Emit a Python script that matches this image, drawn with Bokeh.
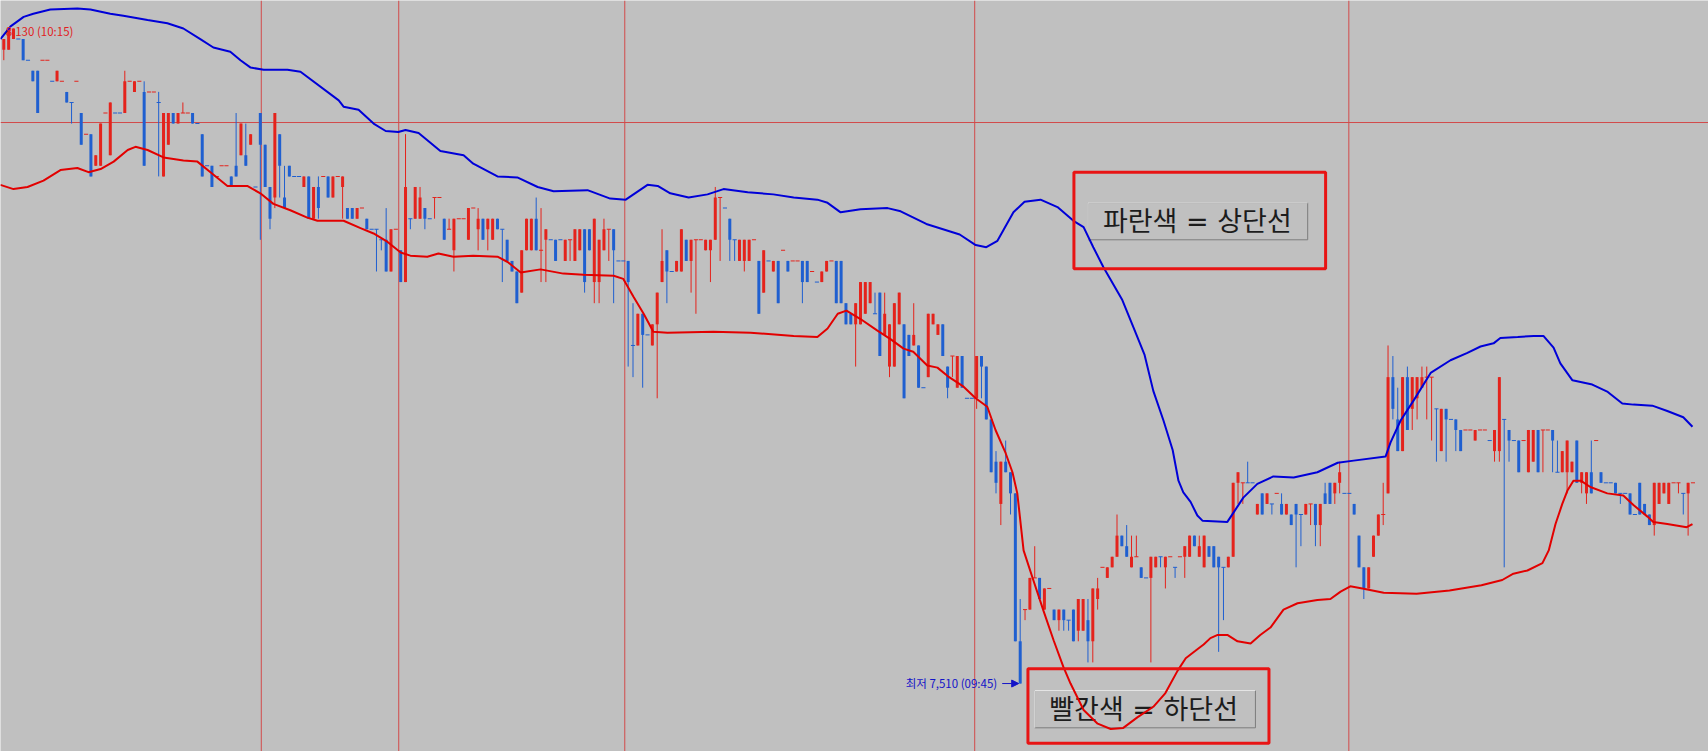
from bokeh.plotting import figure
from bokeh.models import Range1d, Span, Arrow, NormalHead
from bokeh.core.properties import value
from bokeh.embed import file_html
from bokeh.resources import INLINE

# ---------------- data (5-minute candles, KRW) ----------------
opens = [
    8110, 8110, 8120, 8120, 8120, 8100, 8090, 8090, 8100, 8100,
    8080, 8080, 8080, 8070, 8060, 8080, 8050, 8030, 8030, 8000,
    8000, 8050, 8010, 8050, 8050, 8050, 8080, 8070, 8080, 8070,
    8070, 8070, 8060, 7990, 8020, 8050, 8040, 8050, 8050, 8050,
    8040, 8030, 8000, 8000, 7990, 8000, 8000, 7990, 8000, 8010,
    8010, 8020, 7980, 8050, 8020, 7980, 7970, 8030, 7970, 8000,
    7990, 7990, 7980, 7990, 7950, 7980, 7990, 7990, 7970, 7990,
    7980, 7960, 7960, 7950, 7960, 7950, 7940, 7940, 7930, 7930,
    7900, 7940, 7920, 7890, 7950, 7950, 7950, 7960, 7950, 7970,
    7970, 7950, 7940, 7920, 7950, 7950, 7930, 7960, 7940, 7950,
    7940, 7930, 7950, 7940, 7930, 7910, 7900, 7880, 7920, 7920,
    7950, 7920, 7930, 7930, 7930, 7930, 7910, 7930, 7910, 7920,
    7940, 7940, 7890, 7890, 7920, 7940, 7940, 7910, 7910, 7910,
    7830, 7830, 7860, 7840, 7830, 7850, 7890, 7920, 7900, 7900,
    7900, 7930, 7910, 7930, 7930, 7920, 7920, 7930, 7970, 7960,
    7950, 7930, 7910, 7910, 7910, 7930, 7910, 7880, 7910, 7900,
    7910, 7920, 7910, 7910, 7910, 7910, 7910, 7900, 7890, 7890,
    7900, 7910, 7910, 7910, 7870, 7860, 7850, 7850, 7860, 7870,
    7860, 7880, 7840, 7810, 7810, 7850, 7850, 7840, 7830, 7830,
    7790, 7800, 7850, 7840, 7850, 7810, 7820, 7790, 7820, 7780,
    7780, 7780, 7820, 7810, 7760, 7720, 7680, 7720, 7710, 7690,
    7550, 7580, 7580, 7610, 7610, 7580, 7600, 7580, 7570, 7580,
    7570, 7580, 7560, 7560, 7570, 7550, 7590, 7620, 7610, 7620,
    7630, 7650, 7640, 7620, 7630, 7620, 7610, 7610, 7620, 7630,
    7620, 7630, 7620, 7630, 7630, 7630, 7650, 7630, 7620, 7640,
    7640, 7630, 7620, 7620, 7630, 7700, 7700, 7700, 7700, 7670,
    7690, 7680, 7680, 7690, 7680, 7670, 7670, 7680, 7670, 7670,
    7680, 7680, 7660, 7690, 7700, 7690, 7700, 7690, 7690, 7680,
    7650, 7620, 7600, 7630, 7650, 7670, 7690, 7800, 7760, 7730,
    7800, 7770, 7780, 7790, 7800, 7800, 7770, 7730, 7770, 7760,
    7760, 7750, 7750, 7750, 7740, 7750, 7750, 7740, 7730, 7730,
    7760, 7750, 7740, 7740, 7740, 7710, 7720, 7750, 7750, 7750,
    7750, 7710, 7710, 7710, 7710, 7740, 7700, 7690, 7710, 7740,
    7710, 7700, 7700, 7700, 7690, 7690, 7690, 7670, 7700, 7680,
    7670, 7660, 7680, 7690, 7680, 7700, 7700, 7690, 7690, 7700,
]
closes = [
    8120, 8130, 8130, 8120, 8100, 8100, 8080, 8050, 8100, 8100,
    8080, 8090, 8080, 8060, 8060, 8080, 8020, 8030, 7990, 8010,
    8040, 8050, 8060, 8050, 8050, 8080, 8080, 8080, 8080, 8000,
    8070, 8070, 8060, 8050, 8050, 8040, 8050, 8050, 8050, 8040,
    8040, 7990, 8000, 7980, 7990, 8000, 8000, 7980, 7990, 8040,
    8000, 8030, 7980, 8020, 7980, 7950, 8050, 8000, 7960, 7990,
    7990, 7990, 7990, 7950, 7980, 7960, 7990, 7970, 7990, 7990,
    7990, 7950, 7950, 7960, 7960, 7940, 7940, 7940, 7930, 7900,
    7940, 7940, 7890, 7980, 7950, 7980, 7970, 7950, 7950, 7970,
    7970, 7930, 7940, 7950, 7950, 7950, 7960, 7960, 7950, 7930,
    7950, 7950, 7940, 7940, 7910, 7900, 7870, 7920, 7950, 7950,
    7920, 7920, 7940, 7930, 7910, 7930, 7930, 7930, 7940, 7940,
    7890, 7920, 7950, 7930, 7940, 7940, 7920, 7910, 7910, 7890,
    7830, 7860, 7840, 7840, 7850, 7880, 7910, 7900, 7900, 7910,
    7940, 7910, 7930, 7930, 7930, 7930, 7930, 7970, 7970, 7960,
    7930, 7930, 7930, 7930, 7930, 7930, 7860, 7920, 7910, 7910,
    7870, 7920, 7900, 7910, 7910, 7890, 7890, 7900, 7890, 7900,
    7910, 7910, 7870, 7870, 7850, 7850, 7870, 7890, 7890, 7890,
    7860, 7820, 7860, 7850, 7870, 7880, 7780, 7820, 7840, 7790,
    7790, 7860, 7860, 7850, 7820, 7790, 7820, 7820, 7790, 7780,
    7780, 7820, 7810, 7760, 7710, 7700, 7720, 7710, 7690, 7550,
    7510, 7580, 7610, 7610, 7590, 7600, 7600, 7570, 7580, 7570,
    7570, 7550, 7590, 7590, 7550, 7600, 7600, 7620, 7620, 7630,
    7650, 7640, 7630, 7630, 7630, 7610, 7610, 7630, 7630, 7630,
    7630, 7630, 7620, 7630, 7640, 7650, 7640, 7640, 7650, 7630,
    7620, 7620, 7620, 7630, 7700, 7710, 7700, 7700, 7700, 7680,
    7670, 7690, 7680, 7690, 7670, 7680, 7660, 7670, 7670, 7680,
    7680, 7660, 7680, 7680, 7680, 7700, 7710, 7690, 7690, 7670,
    7620, 7600, 7620, 7650, 7670, 7670, 7800, 7770, 7730, 7800,
    7750, 7800, 7800, 7800, 7800, 7800, 7770, 7770, 7760, 7760,
    7750, 7730, 7750, 7750, 7750, 7750, 7750, 7740, 7750, 7800,
    7760, 7740, 7740, 7710, 7740, 7750, 7750, 7710, 7750, 7750,
    7740, 7710, 7730, 7740, 7720, 7700, 7710, 7710, 7690, 7740,
    7700, 7700, 7700, 7690, 7690, 7690, 7670, 7670, 7670, 7670,
    7660, 7700, 7700, 7700, 7700, 7700, 7700, 7690, 7700, 7700,
]
highs = [
    8120, 8130, 8130, 8120, 8120, 8100, 8090, 8090, 8100, 8100,
    8080, 8090, 8080, 8070, 8060, 8080, 8050, 8030, 8030, 8010,
    8040, 8050, 8060, 8050, 8050, 8090, 8080, 8080, 8080, 8080,
    8070, 8070, 8070, 8050, 8050, 8050, 8050, 8060, 8050, 8050,
    8040, 8030, 8000, 8000, 7990, 8000, 8000, 7990, 8050, 8040,
    8040, 8030, 7980, 8050, 8020, 7980, 8050, 8030, 8000, 8000,
    7990, 7990, 7990, 7990, 7980, 7990, 7990, 7990, 7990, 7990,
    7990, 7960, 7960, 7960, 7960, 7950, 7940, 7940, 7930, 7960,
    7940, 7940, 7920, 8030, 7950, 7980, 7980, 7960, 7950, 7970,
    7970, 7950, 7950, 7950, 7950, 7950, 7960, 7960, 7960, 7950,
    7950, 7950, 7950, 7940, 7930, 7910, 7900, 7920, 7950, 7950,
    7970, 7960, 7940, 7930, 7930, 7930, 7930, 7930, 7940, 7940,
    7940, 7940, 7950, 7930, 7950, 7940, 7940, 7910, 7910, 7910,
    7870, 7860, 7860, 7840, 7850, 7880, 7940, 7920, 7900, 7910,
    7940, 7930, 7930, 7930, 7930, 7930, 7930, 7980, 7970, 7960,
    7950, 7930, 7930, 7930, 7930, 7930, 7910, 7920, 7910, 7910,
    7910, 7920, 7910, 7910, 7910, 7910, 7910, 7900, 7890, 7900,
    7910, 7910, 7910, 7910, 7870, 7860, 7870, 7890, 7890, 7890,
    7880, 7880, 7880, 7850, 7870, 7880, 7850, 7840, 7870, 7830,
    7790, 7860, 7860, 7850, 7850, 7810, 7820, 7820, 7820, 7780,
    7780, 7820, 7820, 7810, 7760, 7730, 7720, 7740, 7710, 7690,
    7590, 7580, 7610, 7640, 7610, 7600, 7600, 7580, 7580, 7580,
    7570, 7580, 7590, 7590, 7590, 7600, 7610, 7620, 7620, 7630,
    7670, 7650, 7660, 7650, 7650, 7620, 7610, 7630, 7630, 7630,
    7630, 7630, 7620, 7630, 7640, 7650, 7650, 7650, 7650, 7640,
    7640, 7630, 7620, 7630, 7700, 7710, 7700, 7720, 7700, 7680,
    7690, 7690, 7680, 7690, 7690, 7680, 7670, 7680, 7670, 7680,
    7680, 7680, 7680, 7700, 7700, 7700, 7720, 7690, 7690, 7680,
    7650, 7620, 7620, 7650, 7670, 7700, 7830, 7820, 7790, 7800,
    7810, 7800, 7800, 7810, 7810, 7800, 7770, 7770, 7770, 7760,
    7760, 7750, 7750, 7750, 7750, 7750, 7750, 7740, 7750, 7800,
    7760, 7750, 7740, 7740, 7740, 7750, 7750, 7750, 7750, 7750,
    7750, 7740, 7730, 7740, 7720, 7740, 7710, 7710, 7740, 7740,
    7710, 7700, 7700, 7700, 7690, 7690, 7690, 7670, 7700, 7680,
    7670, 7700, 7700, 7700, 7700, 7700, 7700, 7690, 7700, 7700,
]
lows = [
    8100, 8110, 8120, 8120, 8100, 8100, 8080, 8050, 8100, 8100,
    8080, 8080, 8080, 8060, 8040, 8080, 8020, 8030, 7990, 8000,
    8000, 8050, 8010, 8050, 8050, 8050, 8080, 8070, 8080, 8000,
    8070, 8070, 7990, 7990, 8020, 8040, 8040, 8050, 8050, 8040,
    8040, 7990, 8000, 7980, 7990, 8000, 8000, 7980, 7990, 8010,
    8000, 8020, 7980, 7930, 7980, 7940, 7960, 7970, 7960, 7990,
    7990, 7990, 7980, 7950, 7950, 7950, 7990, 7970, 7970, 7990,
    7950, 7950, 7950, 7950, 7960, 7940, 7940, 7900, 7920, 7900,
    7900, 7940, 7890, 7890, 7940, 7950, 7950, 7940, 7950, 7950,
    7970, 7930, 7940, 7900, 7950, 7950, 7930, 7960, 7920, 7930,
    7920, 7930, 7940, 7890, 7910, 7900, 7870, 7880, 7920, 7920,
    7920, 7890, 7890, 7930, 7910, 7930, 7910, 7910, 7910, 7920,
    7880, 7920, 7870, 7870, 7920, 7910, 7870, 7910, 7910, 7810,
    7800, 7830, 7790, 7840, 7830, 7780, 7890, 7870, 7900, 7900,
    7900, 7910, 7880, 7860, 7930, 7920, 7890, 7930, 7910, 7960,
    7910, 7910, 7910, 7900, 7910, 7930, 7860, 7880, 7910, 7900,
    7870, 7920, 7900, 7910, 7910, 7870, 7890, 7900, 7890, 7890,
    7900, 7910, 7870, 7870, 7850, 7850, 7810, 7850, 7860, 7870,
    7860, 7820, 7840, 7800, 7810, 7850, 7780, 7820, 7830, 7790,
    7790, 7800, 7850, 7840, 7820, 7780, 7800, 7790, 7790, 7780,
    7780, 7770, 7780, 7760, 7710, 7690, 7660, 7710, 7670, 7550,
    7510, 7570, 7580, 7610, 7590, 7580, 7600, 7570, 7560, 7560,
    7560, 7550, 7550, 7560, 7530, 7530, 7580, 7620, 7610, 7620,
    7630, 7640, 7630, 7620, 7630, 7610, 7610, 7530, 7620, 7620,
    7600, 7630, 7610, 7630, 7610, 7630, 7640, 7630, 7620, 7630,
    7620, 7540, 7570, 7620, 7630, 7680, 7680, 7700, 7700, 7670,
    7670, 7680, 7670, 7690, 7670, 7670, 7660, 7620, 7640, 7670,
    7660, 7640, 7640, 7680, 7680, 7680, 7690, 7690, 7690, 7670,
    7620, 7590, 7600, 7630, 7650, 7660, 7690, 7760, 7730, 7730,
    7750, 7750, 7760, 7790, 7760, 7740, 7720, 7730, 7720, 7760,
    7730, 7730, 7750, 7750, 7740, 7750, 7750, 7740, 7720, 7720,
    7620, 7720, 7740, 7710, 7740, 7710, 7720, 7710, 7710, 7750,
    7710, 7710, 7710, 7690, 7710, 7700, 7690, 7680, 7690, 7740,
    7700, 7700, 7700, 7690, 7680, 7690, 7670, 7670, 7670, 7670,
    7660, 7650, 7680, 7690, 7680, 7700, 7690, 7670, 7650, 7700,
]
# R = rising (red), B = falling (blue) candle
updown = ("RRRBBBBBRR" "BRRBBRBRBR" "RRRBBRRRRB" "RRBRRBRRRB" "BBBBRRRBBR"
          "BRBBBBRBBB" "BBRBRBRBRR" "RBBRRBBBBB" "RRBRBRRBBR" "RBRRRRRRRB"
          "RRBBBBBRRR" "BRRBBBRRRR" "BBRRRRBBBB" "BRBBRRRBBR" "RBRRRRRRRB"
          "BBRRRRBRBR" "BRBRRBBRBR" "RRBBBBRRRR" "BBRRRRBBRB" "BRRRBBRRBB"
          "BRBBBBRBBB" "BRRRBRRBRB" "BBRRBRRRRR" "RBBRRBBRRB" "RRBRRRBRRB"
          "BBBRRRRBBR" "BRBRBRBBBR" "RBRBBRRBBB" "BBRRRRRBBR" "BRRRRRBRBB"
          "BBRRRRRBRR" "BBBBRRRBRR" "BBRRRBRRBR" "BBBBBBBBBB" "BRRRRRRBRR")

# upper band (blue) and lower band (red): candle position, price
upper_pos = [-0.7, 1.4, 4.1, 6.1, 9.6, 15.2, 17.9, 22.0, 24.7, 29.7, 33.8, 37.1, 40.6, 43.3,
             46.8, 48.9, 51.0, 53.7, 58.6, 61.3, 69.2, 70.2, 73.3, 76.4, 78.9, 81.5, 83.0,
             85.7, 90.2, 95.0, 97.0, 102.0, 106.1, 110.3, 113.6, 120.6, 125.3, 128.5, 133.0,
             135.1, 137.7, 141.5, 145.4, 148.7, 153.7, 159.0, 163.2, 168.1, 170.2, 172.9,
             177.0, 182.6, 185.3, 190.6, 197.5, 200.8, 203.0, 205.3, 208.6, 210.9, 214.2,
             217.7, 221.0, 223.1, 225.1, 227.2, 228.6, 231.1, 233.4, 235.7, 237.5, 239.6,
             241.5, 242.7, 243.7, 245.2, 246.6, 247.7, 252.8, 254.1, 256.1, 259.0, 262.3,
             266.5, 271.4, 275.6, 278.9, 285.5, 286.5, 288.6, 291.3, 294.8, 298.9, 302.4,
             305.1, 307.8, 309.2, 312.8, 316.1, 318.1, 320.2, 321.6, 324.1, 328.2, 331.4,
             334.4, 336.7, 340.6, 343.7, 347.0, 348.9]
upper_val = [8120, 8132, 8141, 8144, 8148, 8149, 8148, 8144, 8142, 8138, 8135, 8130, 8120, 8112,
             8108, 8100, 8093, 8091, 8091, 8089, 8062, 8056, 8053, 8040, 8033, 8032, 8034,
             8031, 8014, 8010, 8002, 7990, 7989, 7980, 7976, 7977, 7969, 7968, 7982,
             7981, 7974, 7970, 7973, 7978, 7975, 7973, 7970, 7968, 7965, 7956,
             7959, 7960, 7957, 7945, 7935, 7925, 7923, 7929, 7956, 7966, 7968,
             7961, 7948, 7942, 7923, 7904, 7893, 7873, 7847, 7821, 7787, 7759,
             7731, 7702, 7691, 7682, 7669, 7664, 7663, 7672, 7686, 7699, 7706,
             7705, 7710, 7719, 7721, 7725, 7738, 7759, 7778, 7804, 7816, 7823,
             7829, 7832, 7837, 7838, 7839, 7839, 7828, 7813, 7797, 7793, 7786,
             7775, 7774, 7773, 7768, 7762, 7753]
lower_pos = [-0.7, 2.0, 4.9, 8.2, 11.7, 15.2, 17.5, 20.0, 22.7, 25.6, 27.2, 29.7, 33.0, 37.1,
             40.0, 42.7, 46.2, 50.3, 53.0, 55.7, 59.2, 62.7, 64.8, 70.2, 73.7, 76.4, 79.3,
             82.0, 84.0, 87.5, 89.8, 92.9, 97.0, 102.0, 104.1, 106.8, 110.9, 115.6, 119.8,
             126.0, 128.0, 130.1, 132.2, 134.2, 137.1, 146.6, 154.3, 163.2, 168.1, 170.2,
             172.3, 174.1, 177.0, 180.5, 183.2, 185.9, 187.9, 190.8, 192.9, 195.0, 198.3,
             200.8, 203.2, 204.9, 207.0, 208.4, 209.4, 210.7, 212.7, 214.8, 216.9, 218.9,
             220.4, 223.1, 226.0, 228.7, 231.3, 234.2, 237.5, 240.0, 242.5, 244.2, 246.2,
             247.9, 249.3, 250.8, 252.8, 254.9, 257.6, 259.6, 261.7, 264.4, 267.3, 271.4,
             274.1, 276.2, 278.2, 280.7, 285.1, 291.9, 298.7, 305.3, 309.6, 311.9, 314.8,
             317.9, 319.2, 320.6, 322.0, 323.1, 324.3, 325.8, 327.8, 331.3, 334.6, 336.7,
             339.6, 340.8, 343.7, 347.7, 348.9]
lower_val = [7982, 7978, 7980, 7986, 7996, 7998, 7994, 7997, 8004, 8015, 8018, 8015, 8008, 8005,
             8004, 7994, 7981, 7981, 7974, 7964, 7958, 7951, 7948, 7948, 7941, 7936, 7928,
             7918, 7915, 7914, 7917, 7914, 7915, 7914, 7909, 7899, 7902, 7898, 7897,
             7896, 7893, 7876, 7860, 7843, 7842, 7843, 7842, 7839, 7838, 7846,
             7860, 7863, 7855, 7844, 7836, 7827, 7824, 7811, 7809, 7801, 7791,
             7780, 7772, 7750, 7728, 7710, 7690, 7636, 7608, 7579, 7551, 7526,
             7510, 7485, 7472, 7467, 7468, 7478, 7488, 7501, 7522, 7534, 7541,
             7547, 7553, 7556, 7556, 7550, 7548, 7556, 7563, 7580, 7586, 7589,
             7590, 7597, 7602, 7600, 7596, 7595, 7598, 7603, 7608, 7614, 7617,
             7624, 7636, 7661, 7680, 7693, 7702, 7702, 7696, 7690, 7688, 7679,
             7668, 7663, 7661, 7658, 7661]

session_marks = [53.2, 81.6, 128.3, 200.6, 277.9]   # vertical red lines (candle positions)
reference_price = 8041                              # horizontal red line
hi_time, lo_time = "10:15", "09:45"
note_upper = "파란색 = 상단선"
note_lower = "빨간색 = 하단선"

# ---------------- figure ----------------
W, H = 1708, 751
x_lo, x_hi = -0.682, 352.21
y_lo, y_hi = 7445.68, 8156.50
px_x = (x_hi - x_lo) / W
px_y = (y_hi - y_lo) / H

RED, BLUE = "#E4231C", "#1F5FD0"
BAND_BLUE, BAND_RED = "#0000D8", "#E20000"
GRID_RED = "#D24A4A"
BG = "#C0C0C0"
KFONT = value("Noto Sans CJK KR")
NOTE_FONT = value("DejaVu Sans, Noto Sans CJK KR")

p = figure(width=W, height=H, x_range=Range1d(x_lo, x_hi), y_range=Range1d(y_lo, y_hi),
           output_backend="svg", toolbar_location=None,
           x_axis_location=None, y_axis_location=None, min_border=0,
           background_fill_color=BG, border_fill_color=BG, outline_line_color=None)
p.grid.visible = False

for m in session_marks:
    p.add_layout(Span(location=m, dimension="height", line_color=GRID_RED,
                      line_width=1, level="underlay"))
p.add_layout(Span(location=reference_price, dimension="width", line_color=GRID_RED,
                  line_width=1, level="underlay"))

N = len(opens)
idx = list(range(N))
cols = [RED if d == "R" else BLUE for d in updown]

# wicks
p.segment(x0=idx, y0=highs, x1=idx, y1=lows, line_color=cols, line_width=1)

# bodies
bx, bt, bb, bc = [], [], [], []
dx, dy, dc = [], [], []
for i in idx:
    o, c = opens[i], closes[i]
    if o == c:
        dx.append(i); dy.append(o); dc.append(cols[i])
    else:
        bx.append(i); bt.append(max(o, c)); bb.append(min(o, c)); bc.append(cols[i])
p.vbar(x=bx, top=bt, bottom=bb, width=0.62, fill_color=bc, line_color=None)
p.vbar(x=dx, top=[v + 0.5 * px_y for v in dy], bottom=[v - 0.5 * px_y for v in dy],
       width=0.85, fill_color=dc, line_color=None)

# note boxes (inner grey panels)
for (l, r, t, b) in [(224.0, 269.4, 7965.0, 7930.0), (213.0, 258.6, 7503.4, 7468.1)]:
    p.quad(left=[l], right=[r], top=[t], bottom=[b], fill_color=None,
           line_color="#7C7C7C", line_width=1)
    p.segment(x0=[l, l], y0=[t, b], x1=[r, l], y1=[t, t], line_color="#E6E6E6", line_width=1)
p.text(x=[246.6, 235.5], y=[7947.3, 7485.9], text=[note_upper, note_lower],
       text_font=NOTE_FONT, text_font_size="27px", text_align="center",
       text_baseline="middle", text_color="#1C1C1C")

# bands
p.line(upper_pos, upper_val, line_color=BAND_BLUE, line_width=2)
p.line(lower_pos, lower_val, line_color=BAND_RED, line_width=2)

# red outline boxes
p.quad(left=[221.1, 211.6], right=[273.1, 261.4], top=[7994.0, 7524.0],
       bottom=[7902.6, 7453.5], fill_color=None, line_color="#E81414", line_width=3)

# high / low labels
hi_price = max(highs); hi_idx = highs.index(hi_price)
lo_price = min(lows); lo_idx = lows.index(lo_price)
p.text(x=[hi_idx], y=[hi_price], text=[f"{hi_price:,} ({hi_time})"], x_offset=-3, y_offset=3,
       text_font=KFONT, text_font_size="11.5px", text_align="left",
       text_baseline="middle", text_color="#E02020")
p.text(x=[lo_idx], y=[lo_price], text=[f"최저 {lo_price:,} ({lo_time})"], x_offset=-23,
       y_offset=-1, text_font=KFONT, text_font_size="11.5px", text_align="right",
       text_baseline="middle", text_color="#1414C8")
p.add_layout(Arrow(end=NormalHead(size=7, fill_color="#1414C8", line_color="#1414C8"),
                   x_start=lo_idx - 18 * px_x, y_start=lo_price,
                   x_end=lo_idx - 1.5 * px_x, y_end=lo_price,
                   line_color="#1414C8", line_width=1))

open("out.html", "w").write(file_html(p, INLINE))
